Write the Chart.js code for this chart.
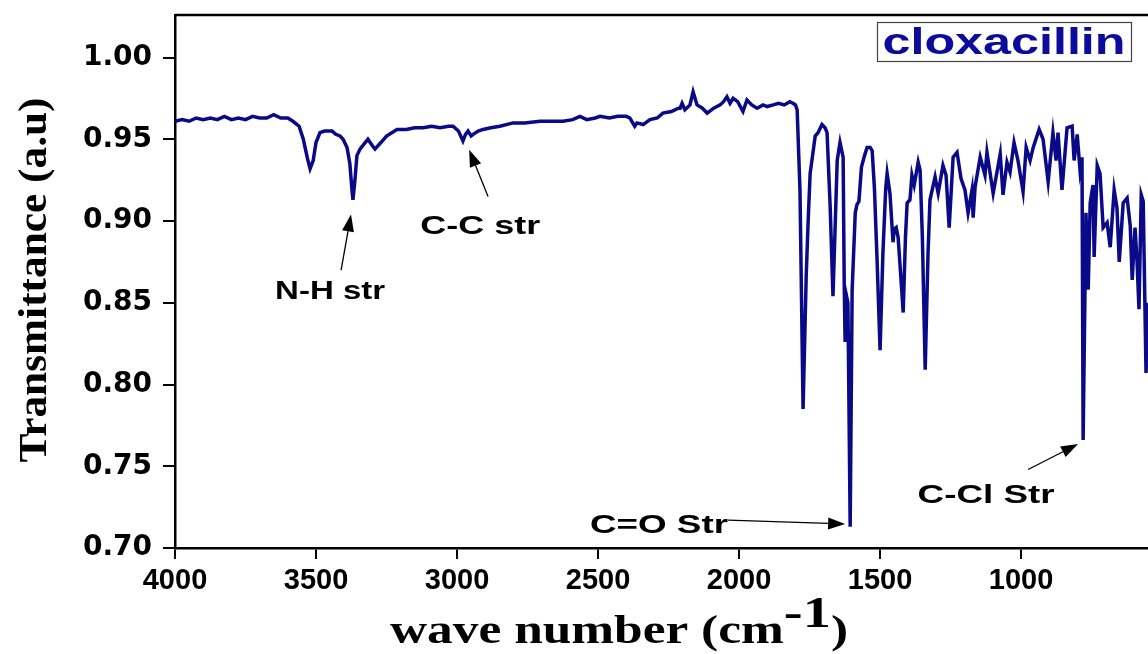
<!DOCTYPE html>
<html>
<head>
<meta charset="utf-8">
<script src="https://cdn.jsdelivr.net/npm/chart.js@4.4.1/dist/chart.umd.min.js"></script>
<style>
  html, body { margin: 0; padding: 0; background: #fff; }
  #wrap { width: 1148px; height: 654px; }
</style>
</head>
<body>
<div id="wrap"><canvas id="chart1" width="1148" height="654"></canvas></div>
<script>
// IR spectrum of cloxacillin
var wavenumber = [
  4000, 3975, 3950, 3925, 3900, 3875, 3850, 3825, 3800, 3775, 3750, 3725, 3700, 3675, 3650, 3625, 3600,
  3582, 3560, 3545, 3530, 3521, 3510, 3500, 3486, 3470, 3443, 3430, 3415, 3404, 3390, 3380, 3372, 3369,
  3362, 3355, 3344, 3330, 3316, 3300, 3291, 3270, 3250, 3213, 3180, 3150, 3120, 3090, 3060, 3030, 3014,
  2995, 2979, 2970, 2961, 2950, 2943, 2925, 2908, 2880, 2848, 2801, 2760, 2706, 2660, 2624, 2590, 2564,
  2540, 2510, 2493, 2460, 2430, 2400, 2387, 2370, 2362, 2340, 2316, 2290, 2270, 2240, 2215, 2209, 2202,
  2192, 2174, 2163, 2149, 2130, 2113, 2090, 2067, 2055, 2043, 2032, 2021, 2005, 1986, 1972, 1955, 1936,
  1915, 1900, 1879, 1860, 1840, 1820, 1809, 1800, 1794, 1784, 1773, 1762, 1755, 1748, 1730, 1720, 1706,
  1695, 1688, 1677, 1667, 1652, 1642, 1631, 1627, 1624, 1620, 1614, 1606, 1599, 1588, 1582, 1575, 1566,
  1555, 1546, 1535, 1528, 1520, 1511, 1500, 1490, 1480, 1475, 1465, 1454, 1450, 1443, 1436, 1428, 1418,
  1410, 1404, 1394, 1387, 1379, 1365, 1358, 1350, 1340, 1330, 1323, 1305, 1294, 1277, 1266, 1255, 1241,
  1227, 1213, 1199, 1188, 1174, 1170, 1163, 1145, 1128, 1121, 1099, 1074, 1064, 1050, 1039, 1025, 1011,
  993, 982, 968, 957, 936, 922, 904, 887, 876, 869, 855, 837, 819, 812, 801, 791, 784, 780, 770, 762,
  755, 745, 741, 730, 720, 709, 695, 684, 670, 660, 652, 638, 624, 613, 606, 596, 589, 582, 574, 567,
  557, 550
]
var transmittance = [
  0.961, 0.962, 0.961, 0.963, 0.962, 0.963, 0.962, 0.964, 0.962, 0.963, 0.962, 0.964, 0.963, 0.963, 0.965, 0.963, 0.963,
  0.961, 0.958, 0.950, 0.938, 0.932, 0.937, 0.948, 0.954, 0.955, 0.955, 0.953, 0.952, 0.950, 0.945, 0.935, 0.918, 0.913,
  0.925, 0.940, 0.944, 0.947, 0.950, 0.946, 0.944, 0.948, 0.952, 0.956, 0.956, 0.957, 0.957, 0.958, 0.957, 0.958, 0.958,
  0.955, 0.949, 0.953, 0.955, 0.952, 0.953, 0.955, 0.956, 0.957, 0.958, 0.960, 0.960, 0.961, 0.961, 0.961, 0.962, 0.964,
  0.962, 0.963, 0.964, 0.963, 0.964, 0.964, 0.963, 0.958, 0.960, 0.959, 0.962, 0.963, 0.966, 0.967, 0.969, 0.969, 0.972,
  0.968, 0.971, 0.979, 0.971, 0.969, 0.966, 0.969, 0.971, 0.973, 0.976, 0.972, 0.975, 0.973, 0.967, 0.974, 0.971, 0.969,
  0.971, 0.970, 0.971, 0.972, 0.971, 0.973, 0.972, 0.971, 0.968, 0.919, 0.785, 0.866, 0.900, 0.929, 0.952, 0.954, 0.959,
  0.957, 0.954, 0.909, 0.854, 0.937, 0.948, 0.939, 0.860, 0.826, 0.855, 0.850, 0.713, 0.858, 0.905, 0.910, 0.912, 0.933,
  0.940, 0.945, 0.945, 0.943, 0.920, 0.878, 0.821, 0.880, 0.920, 0.929, 0.917, 0.887, 0.895, 0.896, 0.890, 0.870, 0.844,
  0.890, 0.911, 0.913, 0.928, 0.922, 0.936, 0.931, 0.890, 0.809, 0.880, 0.913, 0.927, 0.917, 0.934, 0.928, 0.896, 0.939,
  0.942, 0.926, 0.919, 0.905, 0.919, 0.902, 0.921, 0.939, 0.928, 0.942, 0.917, 0.941, 0.916, 0.936, 0.930, 0.948, 0.937,
  0.918, 0.945, 0.937, 0.945, 0.956, 0.950, 0.924, 0.954, 0.937, 0.954, 0.919, 0.957, 0.958, 0.937, 0.953, 0.931, 0.939, 0.766, 0.905, 0.858,
  0.911, 0.922, 0.878, 0.934, 0.929, 0.896, 0.899, 0.884, 0.919, 0.908, 0.875, 0.911, 0.914, 0.897, 0.864, 0.896, 0.876, 0.846, 0.916, 0.912,
  0.807, 0.850
]
var xTicks = [4000, 3500, 3000, 2500, 2000, 1500, 1000]
var yTicks = [0.70, 0.75, 0.80, 0.85, 0.90, 0.95, 1.00]

// peak labels: text position and arrow (tail -> head) in data units
var notes = [
  { text: 'N-H str',  x: 3450, y: 0.852, w: 110, from: [3411, 0.870], to: [3376, 0.904] },
  { text: 'C-C str',  x: 2918, y: 0.892, w: 120, from: [2890, 0.915], to: [2957, 0.9436] },
  { text: 'C=O Str',  x: 2284, y: 0.709, w: 138, from: [2039, 0.717], to: [1624, 0.7147] },
  { text: 'C-Cl Str', x: 1124, y: 0.7275, w: 137, from: [975, 0.748], to: [798, 0.7636] }
]

var points = wavenumber.map(function (w, i) { return { x: w, y: transmittance[i] } })

function fitText(ctx, text, x, y, width, font) {
  ctx.font = font
  var sx = width / ctx.measureText(text).width
  ctx.save()
  ctx.translate(x, y)
  ctx.scale(sx, 1)
  ctx.textAlign = 'center'
  ctx.textBaseline = 'alphabetic'
  ctx.fillText(text, 0, 0)
  ctx.restore()
}

function arrow(ctx, x1, y1, x2, y2) {
  var a = Math.atan2(y2 - y1, x2 - x1)
  var hl = 17, hw = 6
  ctx.save()
  ctx.strokeStyle = '#000'
  ctx.fillStyle = '#000'
  ctx.lineWidth = 1.3
  ctx.beginPath()
  ctx.moveTo(x1, y1)
  ctx.lineTo(x2 - hl * Math.cos(a), y2 - hl * Math.sin(a))
  ctx.stroke()
  ctx.beginPath()
  ctx.moveTo(x2, y2)
  ctx.lineTo(x2 - hl * Math.cos(a) + hw * Math.sin(a), y2 - hl * Math.sin(a) - hw * Math.cos(a))
  ctx.lineTo(x2 - hl * Math.cos(a) - hw * Math.sin(a), y2 - hl * Math.sin(a) + hw * Math.cos(a))
  ctx.closePath()
  ctx.fill()
  ctx.restore()
}

var extras = {
  id: 'extras',
  afterDraw: function (chart) {
    var ctx = chart.ctx
    var area = chart.chartArea
    var xs = chart.scales.x, ys = chart.scales.y

    // top frame line
    ctx.save()
    ctx.strokeStyle = '#000'
    ctx.lineWidth = 2.5
    ctx.beginPath()
    ctx.moveTo(area.left, area.top)
    ctx.lineTo(area.right, area.top)
    ctx.stroke()
    ctx.restore()

    // legend box
    ctx.save()
    ctx.fillStyle = '#fff'
    ctx.fillRect(877, 22, 254, 39)
    ctx.strokeStyle = '#444'
    ctx.lineWidth = 1.2
    ctx.strokeRect(877.5, 22.5, 254, 39)
    ctx.fillStyle = '#0c0c9c'
    fitText(ctx, 'cloxacillin', 1004, 54, 243, 'bold 36px "Liberation Sans"')
    ctx.restore()

    // peak labels
    ctx.save()
    ctx.fillStyle = '#000'
    notes.forEach(function (n) {
      fitText(ctx, n.text, xs.getPixelForValue(n.x), ys.getPixelForValue(n.y), n.w, 'bold 26px "Liberation Sans"')
      arrow(ctx, xs.getPixelForValue(n.from[0]), ys.getPixelForValue(n.from[1]),
                 xs.getPixelForValue(n.to[0]), ys.getPixelForValue(n.to[1]))
    })
    ctx.restore()

    // y title
    ctx.save()
    ctx.fillStyle = '#000'
    ctx.translate(46, 280)
    ctx.rotate(-Math.PI / 2)
    fitText(ctx, 'Transmittance (a.u)', 0, 0, 365, 'bold 40px "Liberation Serif"')
    ctx.restore()

    // x title with superscript
    ctx.save()
    ctx.fillStyle = '#000'
    ctx.textAlign = 'left'
    var f1 = 'bold 40px "Liberation Serif"', f2 = 'bold 44px "Liberation Serif"'
    ctx.font = f1
    var w1 = ctx.measureText('wave number (cm').width
    var w3 = ctx.measureText(')').width
    ctx.font = f2
    var w2 = ctx.measureText('-1').width
    var sx = 458 / (w1 + w2 + w3)
    ctx.translate(390, 643)
    ctx.scale(sx, 1)
    ctx.font = f1
    ctx.fillText('wave number (cm', 0, 0)
    ctx.font = f2
    ctx.fillText('-1', w1, -16)
    ctx.font = f1
    ctx.fillText(')', w1 + w2, 0)
    ctx.restore()
  }
}

var canvas = document.getElementById('chart1').getContext('2d')
new Chart(canvas, {
  type: 'line',
  data: {
    datasets: [{
      data: points,
      borderColor: '#0a0a88',
      borderWidth: 3.5,
      pointRadius: 0,
      tension: 0,
      fill: false
    }]
  },
  options: {
    responsive: false,
    animation: false,
    events: [],
    layout: { padding: { top: 15, right: 0, left: 0, bottom: 0 } },
    plugins: { legend: { display: false }, tooltip: { enabled: false } },
    scales: {
      x: {
        type: 'linear',
        reverse: true,
        min: 550,
        max: 4000,
        border: { display: true, color: '#000', width: 2.5 },
        grid: { display: true, drawOnChartArea: false, drawTicks: true, tickLength: 11, color: '#000', lineWidth: 2 },
        ticks: { color: '#000', padding: 5, maxRotation: 0, autoSkip: false,
                 font: { family: 'Liberation Sans', weight: 'bold', size: 29 },
                 callback: function (v) { return String(v) } },
        afterBuildTicks: function (s) { s.ticks = xTicks.map(function (v) { return { value: v } }) },
        afterFit: function (s) { s.height = 106; s.paddingLeft = 0; s.paddingRight = 0 }
      },
      y: {
        min: 0.70,
        max: 1.026,
        border: { display: true, color: '#000', width: 2.5 },
        grid: { display: true, drawOnChartArea: false, drawTicks: true, tickLength: 12, color: '#000', lineWidth: 2 },
        ticks: { color: '#000', padding: 11,
                 font: { family: 'DejaVu Sans', weight: 'bold', size: 28 },
                 callback: function (v) { return v.toFixed(2) } },
        afterBuildTicks: function (s) { s.ticks = yTicks.map(function (v) { return { value: v } }) },
        afterFit: function (s) { s.width = 175; s.paddingTop = 0; s.paddingBottom = 0 }
      }
    }
  },
  plugins: [extras]
})
</script>
</body>
</html>
